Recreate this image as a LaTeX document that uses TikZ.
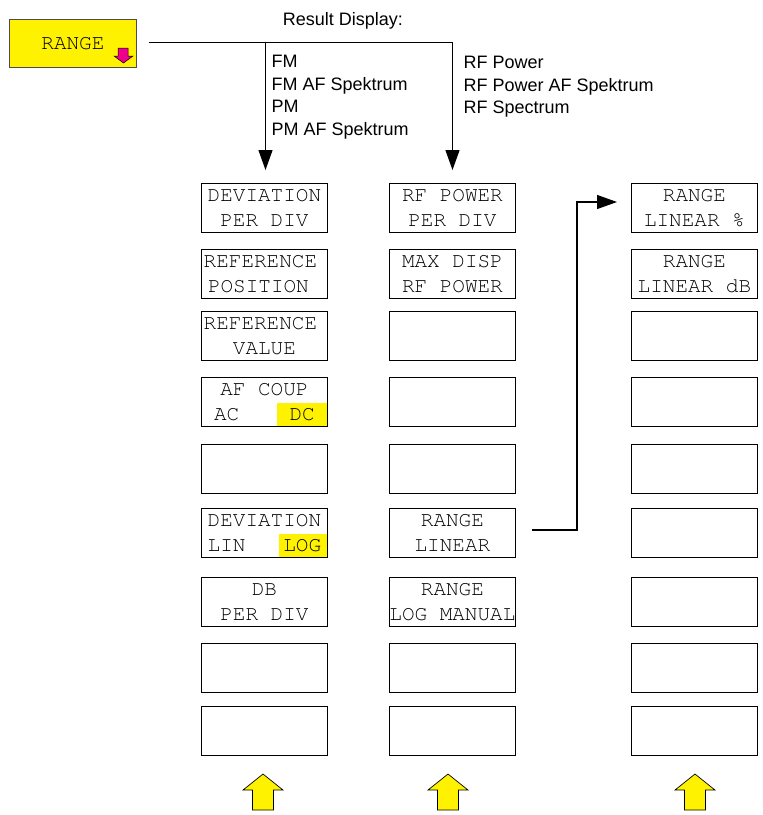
\documentclass[tikz,border=0pt]{standalone}
\usepackage[T1]{fontenc}
\usepackage{fontspec}
\setmainfont{Liberation Sans}
\usetikzlibrary{arrows.meta,backgrounds}
\newcommand\courfont{\fontencoding{T1}\fontfamily{pcr}\selectfont}
\tikzset{
  keybox/.style={draw=black, line width=0.8pt, minimum width=126pt, minimum height=49pt,
    inner sep=0pt, align=center, anchor=north west,
    font=\courfont\fontsize{21}{25}\selectfont},
  conn/.style={line width=1.2pt, line join=miter},
  arr/.style={conn, -{Triangle[length=20pt,width=14pt]}},
  hl/.style={fill=yellow},
  sans/.style={font=\fontsize{18}{22.6}\selectfont, inner sep=0pt, align=left},
  uparrow/.style={fill=yellow, draw=black, line width=0.7pt, line join=miter},
}
\begin{document}
\begin{tikzpicture}[x=1pt,y=-1pt]
\useasboundingbox (0,0) rectangle (763,815);

% RANGE softkey
\node[keybox, fill=yellow, draw=black!70, minimum width=127pt, minimum height=48pt] (range) at (9,19) {RANGE};
\draw[fill=magenta, draw=black, line width=0.5pt] (118,48) -- (128,48) -- (128,56) -- (133,56) -- (123.5,63) -- (114,56) -- (118,56) -- cycle;

% header texts
\node[sans, anchor=base] (rd) at (343,25) {Result Display:};
\node[sans, anchor=north west] (fm) at (271.5,55) {FM\\FM AF Spektrum\\PM\\PM AF Spektrum};
\node[sans, anchor=north west] (rf) at (463.5,56) {RF Power\\RF Power AF Spektrum\\RF Spectrum};

% column 1
\node[keybox] (a1) at (201,183) {DEVIATION\\PER DIV};
\node[keybox] (a2) at (201,249) {REFERENCE\rule{8pt}{0pt}\\POSITION\rule{12pt}{0pt}};
\node[keybox] (a3) at (201,311) {REFERENCE\rule{8pt}{0pt}\\VALUE};
\node[keybox] (a4) at (201,377) {AF COUP\\AC~~~~DC};
\node[keybox] (a5) at (201,444) {};
\node[keybox] (a6) at (201,508) {DEVIATION\\LIN~~~LOG};
\node[keybox] (a7) at (201,577) {DB\\PER DIV};
\node[keybox] (a8) at (201,643) {};
\node[keybox] (a9) at (201,706) {};

% column 2
\node[keybox] (b1) at (389,183) {RF POWER\\PER DIV};
\node[keybox] (b2) at (389,249) {MAX DISP\\RF POWER};
\node[keybox] (b3) at (389,311) {};
\node[keybox] (b4) at (389,377) {};
\node[keybox] (b5) at (389,444) {};
\node[keybox] (b6) at (389,508) {RANGE\\LINEAR};
\node[keybox] (b7) at (389,577) {RANGE\\\makebox[126pt]{LOG MANUAL}};
\node[keybox] (b8) at (389,643) {};
\node[keybox] (b9) at (389,706) {};

% column 3
\node[keybox] (c1) at (631,183) {RANGE\\LINEAR \%};
\node[keybox] (c2) at (631,249) {RANGE\\LINEAR dB};
\node[keybox] (c3) at (631,311) {};
\node[keybox] (c4) at (631,377) {};
\node[keybox] (c5) at (631,444) {};
\node[keybox] (c6) at (631,508) {};
\node[keybox] (c7) at (631,577) {};
\node[keybox] (c8) at (631,643) {};
\node[keybox] (c9) at (631,706) {};

% white page and highlights behind the keys
\begin{scope}[on background layer]
\fill[white] (0,0) rectangle (763,815);
\fill[hl] ([xshift=-0.5pt,yshift=0.5pt]a4.south east) rectangle ([xshift=-51pt,yshift=-1pt]a4.east);
\fill[hl] ([xshift=-0.5pt,yshift=0.5pt]a6.south east) rectangle ([xshift=-49pt,yshift=-1pt]a6.east);
\end{scope}

% connectors
\coordinate (h0) at ([xshift=12pt,yshift=1pt]range.east);
\coordinate (t1) at (265.5,170);
\coordinate (t2) at (452.5,170);
\draw[arr] (h0) -| (t2);
\draw[arr] (t1 |- h0) -- (t1);

\coordinate (rs) at ([xshift=16pt,yshift=3pt]b6.east);
\coordinate (rk) at (577,202);
\coordinate (rt) at (617,202);
\draw[arr] (rs) -| (rk) -- (rt);

% yellow up arrows
\foreach \cx in {263,448,695}{
  \draw[uparrow] (\cx,774) -- ++(20,16) -- ++(-9.5,0) -- ++(0,20) -- ++(-21,0) -- ++(0,-20) -- ++(-9.5,0) -- cycle;
}
\end{tikzpicture}
\end{document}
